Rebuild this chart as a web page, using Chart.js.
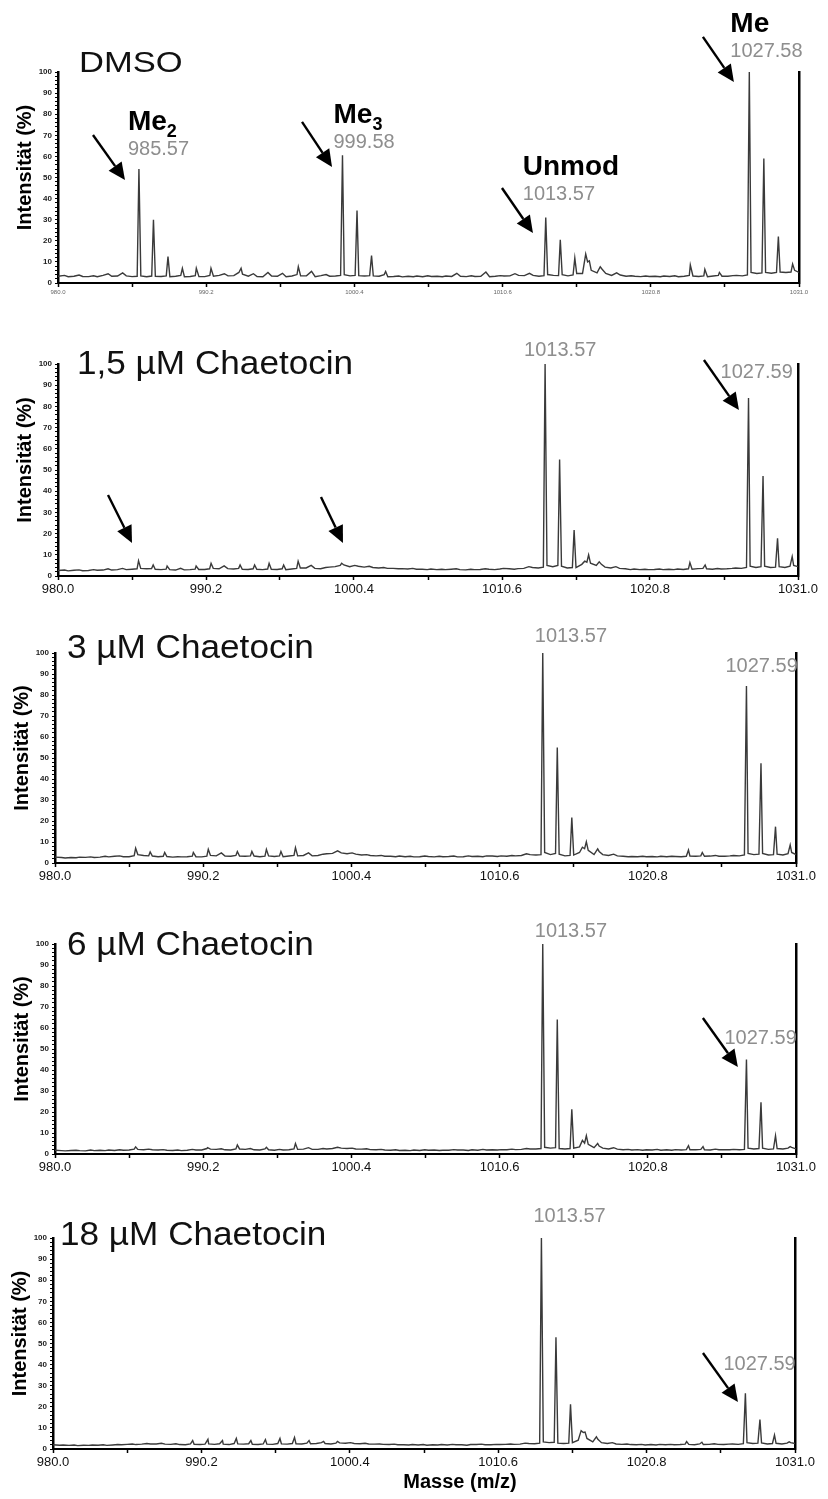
<!DOCTYPE html>
<html>
<head>
<meta charset="utf-8">
<script src="https://cdn.jsdelivr.net/npm/chart.js@4.4.1/dist/chart.umd.min.js"></script>
<style>
  html, body { margin: 0; padding: 0; background: #fff; }
  #fig { position: relative; width: 828px; height: 1499px; overflow: hidden; }
  #fig canvas { position: absolute; left: 0; }
</style>
</head>
<body>
<div id="fig"></div>
<script>
// m/z sampling of the baseline (shared by all five spectra)
const baseMz = [
  980.00, 980.45, 980.70, 981.10, 981.45, 981.70, 982.10, 982.45, 982.70, 983.10, 983.45, 983.70, 984.10, 984.45, 984.70,
  985.10, 985.45, 985.70, 986.10, 986.45, 986.70, 987.10, 987.45, 987.70, 988.10, 988.45, 988.70, 989.10, 989.45, 989.70,
  990.10, 990.45, 990.70, 991.10, 991.45, 991.70, 992.10, 992.45, 992.70, 993.10, 993.45, 993.70, 994.10, 994.45, 994.70,
  995.10, 995.45, 995.70, 996.10, 996.45, 996.70, 997.10, 997.45, 997.70, 998.10, 998.45, 998.70, 999.10, 999.45, 999.70,
  1000.10, 1000.45, 1000.70, 1001.10, 1001.45, 1001.70, 1002.10, 1002.45, 1002.70, 1003.10, 1003.45, 1003.70, 1004.10, 1004.45, 1004.70,
  1005.10, 1005.45, 1005.70, 1006.10, 1006.45, 1006.70, 1007.10, 1007.45, 1007.70, 1008.10, 1008.45, 1008.70, 1009.10, 1009.45, 1009.70,
  1010.10, 1010.45, 1010.70, 1011.10, 1011.45, 1011.70, 1012.10, 1012.45, 1012.70, 1013.10, 1013.45, 1013.70, 1014.10, 1014.45, 1014.70,
  1015.10, 1015.45, 1015.70, 1016.10, 1016.45, 1016.70, 1017.10, 1017.45, 1017.70, 1018.10, 1018.45, 1018.70, 1019.10, 1019.45, 1019.70,
  1020.10, 1020.45, 1020.70, 1021.10, 1021.45, 1021.70, 1022.10, 1022.45, 1022.70, 1023.10, 1023.45, 1023.70, 1024.10, 1024.45, 1024.70,
  1025.10, 1025.45, 1025.70, 1026.10, 1026.45, 1026.70, 1027.10, 1027.45, 1027.70, 1028.10, 1028.45, 1028.70, 1029.10, 1029.45, 1029.70,
  1030.10, 1030.45, 1030.70, 1031.00
];

// baseline intensities (%) on baseMz
const dmsoBase = [
  3.2, 3.6, 3.0, 3.2, 3.8, 3.1, 3.0, 3.4, 3.0, 3.6, 4.4, 3.2, 3.3, 4.8, 3.4,
  3.0, 3.2, 3.4, 3.0, 3.3, 3.2, 3.1, 3.4, 3.0, 3.2, 3.6, 3.0, 3.1, 3.5, 3.0,
  3.0, 3.6, 3.2, 3.6, 4.4, 3.4, 3.5, 5.0, 4.2, 3.2, 4.4, 3.1, 3.0, 5.0, 3.3,
  3.2, 4.6, 3.0, 3.3, 4.0, 3.4, 3.4, 5.5, 3.0, 3.5, 4.0, 3.2, 3.3, 3.6, 4.0,
  3.4, 3.6, 3.5, 3.3, 3.5, 3.4, 3.2, 4.0, 3.0, 3.1, 3.3, 2.9, 3.2, 3.0, 3.3,
  3.0, 3.4, 3.1, 3.2, 3.0, 3.3, 3.1, 4.6, 3.2, 3.0, 3.4, 3.1, 3.2, 5.2, 3.0,
  3.2, 3.5, 3.3, 3.4, 4.4, 3.6, 3.5, 4.6, 3.6, 3.2, 3.5, 4.0, 3.6, 3.5, 4.0,
  3.4, 3.8, 4.5, 4.5, 10.0, 6.0, 4.8, 6.5, 4.5, 3.6, 4.8, 3.8, 3.2, 3.4, 3.2,
  3.0, 3.3, 3.1, 3.2, 3.0, 3.3, 3.1, 3.4, 3.0, 3.2, 3.6, 3.3, 3.1, 3.4, 3.0,
  3.3, 3.6, 3.2, 3.2, 3.5, 3.6, 3.4, 3.8, 5.0, 4.5, 4.8, 5.0, 4.6, 5.0, 5.2,
  5.0, 5.2, 6.0, 5.0
];
const chae15Base = [
  2.6, 2.8, 2.4, 2.7, 2.9, 2.5, 2.6, 3.0, 2.7, 2.8, 3.4, 2.8, 3.0, 3.6, 3.0,
  3.2, 3.4, 3.6, 3.4, 3.5, 3.2, 3.0, 3.2, 3.0, 2.8, 3.6, 2.9, 3.0, 3.2, 3.1,
  3.1, 3.4, 3.6, 3.4, 4.8, 3.5, 3.3, 3.6, 3.2, 3.1, 3.4, 3.2, 3.0, 3.3, 3.2,
  3.1, 3.4, 3.0, 3.3, 3.6, 3.8, 3.8, 5.0, 3.6, 3.4, 4.0, 4.2, 4.4, 5.0, 5.2,
  4.4, 5.0, 4.6, 4.2, 4.6, 4.0, 3.8, 4.0, 3.6, 3.6, 3.4, 3.5, 3.3, 3.6, 3.2,
  3.2, 3.0, 3.3, 3.0, 3.2, 3.0, 3.2, 3.4, 3.0, 2.9, 3.2, 3.0, 3.1, 3.4, 3.2,
  3.0, 3.3, 3.6, 3.4, 3.2, 3.5, 3.6, 4.4, 4.0, 3.8, 4.2, 5.0, 4.4, 5.0, 4.6,
  3.8, 4.0, 4.0, 5.5, 6.5, 6.0, 5.0, 5.5, 4.2, 3.8, 4.4, 3.6, 3.4, 3.0, 3.3,
  3.0, 3.2, 3.0, 3.1, 3.3, 3.0, 3.2, 3.0, 3.3, 3.1, 3.4, 3.2, 3.5, 3.6, 3.4,
  3.2, 3.5, 3.3, 3.4, 3.6, 3.8, 3.6, 4.0, 4.6, 4.0, 4.4, 4.6, 4.0, 4.2, 4.4,
  4.0, 4.6, 5.0, 4.4
];
const chae3Base = [
  2.8, 2.6, 2.4, 2.6, 2.5, 2.8, 2.7, 2.9, 2.6, 2.8, 3.2, 2.9, 3.2, 3.4, 3.0,
  3.0, 3.5, 4.0, 3.6, 3.4, 3.3, 3.0, 3.2, 3.1, 2.8, 3.0, 2.9, 3.0, 3.3, 3.0,
  2.9, 3.3, 3.6, 3.4, 4.8, 3.3, 3.2, 3.6, 3.3, 3.2, 3.4, 3.3, 3.0, 3.3, 3.4,
  3.1, 3.4, 3.0, 3.3, 3.6, 3.4, 3.6, 4.8, 3.4, 3.6, 4.2, 4.4, 4.6, 5.8, 4.8,
  4.4, 4.8, 4.2, 3.8, 4.0, 3.6, 3.4, 3.6, 3.2, 3.2, 3.0, 3.3, 3.0, 3.2, 2.9,
  3.0, 3.3, 3.1, 2.9, 3.2, 3.0, 3.1, 3.3, 2.9, 3.0, 3.4, 3.1, 3.2, 3.0, 3.4,
  3.3, 3.1, 3.4, 3.2, 3.6, 3.4, 3.6, 4.4, 4.0, 3.8, 4.0, 5.0, 4.0, 4.6, 4.2,
  3.4, 3.6, 3.8, 5.0, 6.8, 6.0, 4.0, 5.5, 4.0, 3.6, 4.2, 3.4, 3.2, 3.0, 3.1,
  3.0, 3.2, 3.0, 3.1, 2.9, 3.2, 3.0, 3.2, 3.1, 3.0, 3.2, 3.3, 3.2, 3.4, 3.2,
  3.3, 3.6, 3.2, 3.2, 3.4, 3.6, 3.4, 3.8, 4.6, 4.0, 4.2, 4.5, 3.8, 4.0, 4.2,
  3.8, 4.4, 5.0, 4.0
];
const chae6Base = [
  1.8, 1.6, 1.5, 1.7, 1.8, 1.6, 1.5, 1.9, 1.6, 1.8, 1.6, 1.9, 1.7, 2.0, 1.8,
  1.9, 2.3, 2.2, 2.0, 2.3, 2.0, 1.9, 2.1, 1.8, 1.7, 1.9, 1.6, 1.8, 2.2, 1.9,
  1.9, 2.6, 2.3, 2.2, 2.5, 2.0, 1.9, 2.4, 2.4, 2.2, 2.6, 2.0, 1.9, 2.4, 2.0,
  1.8, 2.2, 1.9, 2.0, 2.4, 2.2, 2.3, 3.0, 2.2, 2.2, 2.6, 2.4, 2.6, 3.2, 2.8,
  2.6, 2.8, 2.4, 2.3, 2.5, 2.1, 2.0, 2.2, 1.9, 1.8, 2.0, 1.7, 1.8, 1.6, 1.9,
  1.7, 2.0, 1.8, 1.9, 1.7, 1.8, 1.8, 2.1, 1.9, 1.9, 1.7, 2.0, 1.8, 2.2, 1.9,
  2.0, 1.9, 2.1, 2.0, 2.3, 2.1, 2.2, 2.6, 2.4, 2.4, 2.6, 3.2, 2.8, 3.0, 2.6,
  2.4, 2.6, 2.8, 3.4, 5.2, 4.6, 3.0, 3.8, 2.8, 2.4, 3.0, 2.3, 2.0, 2.2, 1.9,
  2.1, 1.8, 2.0, 1.9, 2.2, 1.8, 2.0, 1.8, 2.1, 1.9, 2.1, 2.0, 2.0, 2.2, 2.0,
  1.9, 2.3, 2.0, 2.1, 2.0, 2.2, 2.0, 2.2, 2.8, 2.4, 2.6, 2.8, 2.2, 2.4, 2.6,
  2.4, 2.8, 3.2, 2.4
];
const chae18Base = [
  2.0, 1.8, 1.9, 1.7, 1.9, 1.6, 1.8, 1.7, 1.9, 1.8, 2.0, 1.7, 1.9, 2.1, 2.0,
  2.2, 2.4, 2.1, 2.3, 2.6, 2.4, 2.4, 2.7, 2.3, 2.2, 2.5, 2.1, 2.0, 2.4, 2.2,
  2.1, 2.3, 2.4, 2.2, 2.5, 2.3, 2.1, 2.6, 2.4, 2.3, 2.5, 2.2, 2.1, 2.4, 2.3,
  2.2, 2.6, 2.4, 2.3, 2.6, 2.5, 2.4, 2.8, 2.5, 2.6, 3.0, 2.6, 2.4, 2.8, 2.9,
  2.7, 3.0, 2.6, 2.5, 2.7, 2.4, 2.3, 2.4, 2.2, 2.1, 2.3, 2.0, 2.0, 1.9, 2.1,
  1.9, 2.1, 1.8, 2.0, 1.9, 2.1, 1.9, 2.2, 2.0, 2.0, 1.8, 2.1, 2.1, 2.3, 2.0,
  2.0, 2.2, 2.1, 2.2, 2.4, 2.2, 2.3, 2.8, 2.6, 2.5, 2.8, 3.4, 3.0, 3.2, 2.8,
  2.6, 2.8, 3.0, 4.2, 7.8, 5.0, 3.4, 4.6, 3.0, 2.6, 3.0, 2.4, 2.2, 2.4, 2.1,
  2.0, 2.2, 1.9, 2.1, 1.9, 2.2, 2.0, 2.2, 2.0, 2.1, 2.3, 2.2, 2.0, 2.4, 2.1,
  2.2, 2.5, 2.2, 2.1, 2.3, 2.4, 2.2, 2.5, 3.0, 2.6, 2.8, 2.9, 2.4, 2.6, 2.7,
  2.4, 2.8, 3.0, 2.6
];

// peak apexes: m/z and relative intensity (%)
const dmsoPeakMz = [985.57, 986.57, 987.57, 988.56, 989.52, 990.53, 992.60, 996.54, 999.58, 1000.58, 1001.58, 1002.55,
  1013.57, 1014.57, 1015.57, 1016.32, 1016.57, 1017.32, 1023.52, 1024.52, 1025.52, 1027.58, 1028.58, 1029.58, 1030.56];
const dmsoPeakInt = [54, 30, 12.5, 7, 7, 7, 7, 7.7, 60.5, 34.3, 13, 5.5,
  31, 20.5, 11.8, 13.7, 10.5, 7.7, 8.5, 6.5, 5, 100, 59, 22, 9];

const chae15PeakMz = [985.55, 986.56, 987.52, 989.52, 990.55, 992.55, 993.55, 994.55, 995.55, 996.55, 999.55,
  1013.57, 1014.57, 1015.57, 1016.30, 1016.57, 1017.30, 1023.55, 1024.60, 1027.59, 1028.59, 1029.59, 1030.60];
const chae15PeakInt = [7.2, 5.2, 4.7, 4.7, 6, 5.2, 5.2, 6, 5.2, 7, 6,
  100, 55, 21.7, 7, 10, 6.7, 6.3, 5.2, 84, 47.2, 17.8, 9.1];

const chae3PeakMz = [985.55, 986.55, 987.55, 989.52, 990.55, 992.55, 993.55, 994.55, 995.55, 996.55,
  1013.57, 1014.57, 1015.57, 1016.30, 1016.57, 1017.35, 1023.60, 1024.55, 1027.59, 1028.59, 1029.59, 1030.60];
const chae3PeakInt = [7, 5.3, 5, 5, 6.5, 5.5, 5.5, 6.5, 5.5, 7.3,
  100, 55, 21.6, 7.5, 10.1, 6.7, 6.2, 5, 84.3, 47.5, 17.3, 8.6];

const chae6PeakMz = [985.55, 990.50, 992.55, 994.55, 996.55,
  1013.57, 1014.57, 1015.57, 1016.30, 1016.57, 1017.35, 1023.60, 1024.60, 1027.59, 1028.59, 1029.59, 1030.60];
const chae6PeakInt = [3.4, 3.0, 4.3, 3.2, 5,
  100, 64, 21.3, 6.5, 8.7, 5, 4, 3.5, 45, 24.6, 8.7, 3.5];

const chae18PeakMz = [989.60, 990.65, 991.65, 992.60, 993.60, 994.60, 995.60, 996.60, 997.60, 998.60, 999.55,
  1013.57, 1014.57, 1015.57, 1016.30, 1016.57, 1017.35, 1023.55, 1024.60, 1027.59, 1028.59, 1029.59, 1030.60];
const chae18PeakInt = [4, 4.6, 4, 5, 4, 4.5, 5, 5.5, 4, 3.6, 3.6,
  100, 53, 21.2, 8.7, 8, 5.8, 3.5, 3.2, 26.4, 14, 6.6, 3.4];

const panelTitles = ['DMSO', '1,5 µM Chaetocin', '3 µM Chaetocin', '6 µM Chaetocin', '18 µM Chaetocin'];
const xTickValues = [980.0, 985.1, 990.2, 995.3, 1000.4, 1005.5, 1010.6, 1015.7, 1020.8, 1025.9, 1031.0];
const yTitle = 'Intensität (%)';
const xTitle = 'Masse (m/z)';

const FONT = "'Liberation Sans', Arial, Helvetica, sans-serif";
Chart.defaults.font.family = FONT;

function spectrum(base, peakMz, peakInt) {
  const pts = baseMz.map((m, i) => ({ x: m, y: base[i] }));
  peakMz.forEach((m, i) => pts.push({ x: m, y: peakInt[i] }));
  return pts.sort((a, b) => a.x - b.x);
}

// layout of each panel on the page; labels/arrows are anchored to peaks in data units
const panels = [
  {
    top: 0, height: 300, area: { left: 58, right: 799, top: 72, bottom: 283 },
    data: spectrum(dmsoBase, dmsoPeakMz, dmsoPeakInt),
    tickSize: 6, tickColor: '#666', tickPad: 2,
    titleSize: 30, titleStretch: 1.15, titleAt: [21, 0],
    labels: [
      { mz: 985.57, val: 54, dx: -11, dy: -14, text: '985.57' },
      { mz: 985.57, val: 54, dx: -11, dy: -39, text: 'Me', sub: '2', bold: true },
      { mz: 999.58, val: 60.5, dx: -9, dy: -7, text: '999.58' },
      { mz: 999.58, val: 60.5, dx: -9, dy: -32, text: 'Me', sub: '3', bold: true },
      { mz: 1013.57, val: 31, dx: -23, dy: -18, text: '1013.57' },
      { mz: 1013.57, val: 31, dx: -23, dy: -43, text: 'Unmod', bold: true },
      { mz: 1027.58, val: 100, dx: -19, dy: -15, text: '1027.58' },
      { mz: 1027.58, val: 100, dx: -19, dy: -40, text: 'Me', bold: true }
    ],
    arrows: [
      { mz: 984.61, val: 48.8, dx: -32, dy: -45 },
      { mz: 998.86, val: 55, dx: -30, dy: -45 },
      { mz: 1012.69, val: 23.7, dx: -31, dy: -45 },
      { mz: 1026.52, val: 95.3, dx: -31, dy: -45 }
    ]
  },
  {
    top: 300, height: 300, area: { left: 58, right: 798, top: 364, bottom: 576 },
    data: spectrum(chae15Base, chae15PeakMz, chae15PeakInt),
    tickSize: 13, tickColor: '#111', tickPad: 2,
    titleSize: 33, titleStretch: 1.065, titleAt: [19, 10],
    labels: [
      { mz: 1013.57, val: 100, dx: -21, dy: -8, text: '1013.57' },
      { mz: 1027.59, val: 84, dx: -28, dy: -20, text: '1027.59' }
    ],
    arrows: [
      { mz: 985.10, val: 15.6, dx: -24, dy: -48 },
      { mz: 999.64, val: 15.6, dx: -22, dy: -46 },
      { mz: 1026.93, val: 78.3, dx: -35, dy: -50 }
    ]
  },
  {
    top: 600, height: 290, area: { left: 55, right: 796, top: 653, bottom: 863 },
    data: spectrum(chae3Base, chae3PeakMz, chae3PeakInt),
    tickSize: 13, tickColor: '#111', tickPad: 2,
    titleSize: 33, titleStretch: 1.065, titleAt: [12, 5],
    labels: [
      { mz: 1013.57, val: 100, dx: -8, dy: -11, text: '1013.57' },
      { mz: 1027.59, val: 84.3, dx: -21, dy: -14, text: '1027.59' }
    ],
    arrows: []
  },
  {
    top: 890, height: 290, area: { left: 55, right: 796, top: 944, bottom: 1154 },
    data: spectrum(chae6Base, chae6PeakMz, chae6PeakInt),
    tickSize: 13, tickColor: '#111', tickPad: 2,
    titleSize: 33, titleStretch: 1.065, titleAt: [12, 11],
    labels: [
      { mz: 1013.57, val: 100, dx: -8, dy: -7, text: '1013.57' },
      { mz: 1027.59, val: 45, dx: -22, dy: -16, text: '1027.59' }
    ],
    arrows: [
      { mz: 1027.0, val: 41.4, dx: -35, dy: -49 }
    ]
  },
  {
    top: 1180, height: 319, area: { left: 53, right: 795, top: 1238, bottom: 1449 },
    data: spectrum(chae18Base, chae18PeakMz, chae18PeakInt),
    tickSize: 13, tickColor: '#111', tickPad: 2,
    titleSize: 33, titleStretch: 1.065, titleAt: [7, 7],
    labels: [
      { mz: 1013.57, val: 100, dx: -8, dy: -16, text: '1013.57' },
      { mz: 1027.59, val: 26.4, dx: -22, dy: -23, text: '1027.59' }
    ],
    arrows: [
      { mz: 1027.08, val: 22.3, dx: -35, dy: -49 }
    ],
    xTitle: true
  }
];

function drawArrow(ctx, x0, y0, x1, y1) {
  const ang = Math.atan2(y1 - y0, x1 - x0);
  const head = 17, half = 8;
  const bx = x1 - head * Math.cos(ang), by = y1 - head * Math.sin(ang);
  ctx.strokeStyle = '#000';
  ctx.fillStyle = '#000';
  ctx.lineWidth = 2.4;
  ctx.beginPath();
  ctx.moveTo(x0, y0);
  ctx.lineTo(bx, by);
  ctx.stroke();
  ctx.beginPath();
  ctx.moveTo(x1, y1);
  ctx.lineTo(bx + half * Math.sin(ang), by - half * Math.cos(ang));
  ctx.lineTo(bx - half * Math.sin(ang), by + half * Math.cos(ang));
  ctx.closePath();
  ctx.fill();
}

// titles, peak annotations and arrows for one panel
function decor(p, title) {
  return {
    id: 'decor',
    afterDraw(chart) {
      const { ctx, chartArea: a, scales: { x, y } } = chart;
      ctx.save();
      ctx.textAlign = 'left';
      ctx.textBaseline = 'alphabetic';

      ctx.save();
      ctx.translate(a.left + p.titleAt[0], a.top + p.titleAt[1]);
      ctx.scale(p.titleStretch, 1);
      ctx.font = p.titleSize + 'px ' + FONT;
      ctx.fillStyle = '#111';
      ctx.fillText(title, 0, 0);
      ctx.restore();

      ctx.save();
      ctx.translate(a.left - 33, (a.top + a.bottom) / 2 - 10);
      ctx.rotate(-Math.PI / 2);
      ctx.font = 'bold 20px ' + FONT;
      ctx.fillStyle = '#000';
      ctx.textAlign = 'center';
      ctx.textBaseline = 'middle';
      ctx.fillText(yTitle, 0, 0);
      ctx.restore();

      if (p.xTitle) {
        ctx.font = 'bold 20px ' + FONT;
        ctx.fillStyle = '#000';
        ctx.textAlign = 'center';
        ctx.fillText(xTitle, a.left + 407, a.bottom + 39);
        ctx.textAlign = 'left';
      }

      p.labels.forEach(l => {
        const px = x.getPixelForValue(l.mz) + l.dx;
        const py = y.getPixelForValue(l.val) + l.dy;
        if (l.bold) {
          ctx.font = 'bold 28px ' + FONT;
          ctx.fillStyle = '#000';
          ctx.fillText(l.text, px, py);
          if (l.sub) {
            const w = ctx.measureText(l.text).width;
            ctx.font = 'bold 18px ' + FONT;
            ctx.fillText(l.sub, px + w, py + 7);
          }
        } else {
          ctx.font = '20px ' + FONT;
          ctx.fillStyle = '#8e8e8e';
          ctx.fillText(l.text, px, py);
        }
      });

      p.arrows.forEach(ar => {
        const tx = x.getPixelForValue(ar.mz), ty = y.getPixelForValue(ar.val);
        drawArrow(ctx, tx + ar.dx, ty + ar.dy, tx, ty);
      });
      ctx.restore();
    }
  };
}

const fig = document.getElementById('fig');
panels.forEach((p, idx) => {
  const cv = document.createElement('canvas');
  cv.width = 828;
  cv.height = p.height;
  cv.style.top = p.top + 'px';
  cv.style.width = '828px';
  cv.style.height = p.height + 'px';
  fig.appendChild(cv);

  const a = p.area;
  new Chart(cv, {
    type: 'line',
    data: {
      datasets: [{
        data: p.data,
        borderColor: '#3a3a3a',
        borderWidth: 1.4,
        pointRadius: 0,
        tension: 0,
        fill: false
      }]
    },
    options: {
      responsive: false,
      animation: false,
      events: [],
      layout: { padding: { top: a.top - p.top, left: 0, right: 828 - a.right, bottom: 0 } },
      plugins: { legend: { display: false }, tooltip: { enabled: false } },
      scales: {
        x: {
          type: 'linear',
          min: 980,
          max: 1031,
          afterBuildTicks: s => { s.ticks = xTickValues.map(v => ({ value: v })); },
          afterFit: s => { s.height = p.top + p.height - a.bottom; },
          ticks: {
            autoSkip: false,
            maxRotation: 0,
            padding: p.tickPad,
            color: p.tickColor,
            font: { size: p.tickSize },
            callback: (v, i) => (i % 2 === 0 ? Number(v).toFixed(1) : '')
          },
          grid: { display: true, drawOnChartArea: false, tickLength: 4, tickColor: '#000', tickWidth: 1.5 },
          border: { display: true, color: '#000', width: 2 }
        },
        y: {
          min: 0,
          max: 100,
          afterFit: s => { s.width = a.left; },
          ticks: {
            stepSize: 2,
            autoSkip: false,
            padding: 3,
            color: '#222',
            font: { size: 8, weight: 'bold' },
            callback: v => (v % 10 === 0 ? String(v) : '')
          },
          grid: { display: true, drawOnChartArea: false, tickLength: 3, tickColor: '#000', tickWidth: 1 },
          border: { display: true, color: '#000', width: 2.5 }
        },
        yr: {
          position: 'right',
          min: 0,
          max: 100,
          afterFit: s => { s.width = 0; },
          ticks: { display: false },
          grid: { display: false },
          border: { display: true, color: '#000', width: 2.5 }
        }
      }
    },
    plugins: [decor(p, panelTitles[idx])]
  });
});
</script>
</body>
</html>
